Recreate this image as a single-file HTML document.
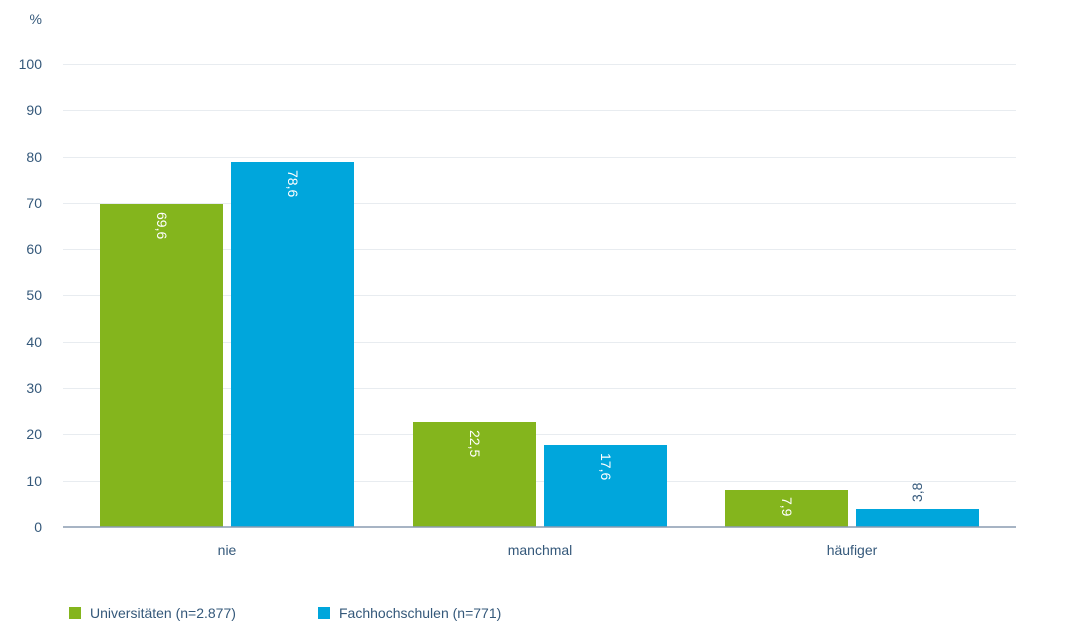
<!DOCTYPE html>
<html><head><meta charset="utf-8"><style>
body{margin:0;background:#fff;}
svg{display:block;font-family:"Liberation Sans",sans-serif;}
.t{fill:#34587a;font-size:14px;}
</style></head><body>
<svg width="1080" height="632" viewBox="0 0 1080 632">
<text class="t" x="42" y="24" text-anchor="end">%</text>
<g stroke="#e8ecf0" stroke-width="1">
<line x1="63" x2="1016" y1="64.5" y2="64.5"/><line x1="63" x2="1016" y1="110.5" y2="110.5"/>
<line x1="63" x2="1016" y1="157.5" y2="157.5"/><line x1="63" x2="1016" y1="203.5" y2="203.5"/>
<line x1="63" x2="1016" y1="249.5" y2="249.5"/><line x1="63" x2="1016" y1="295.5" y2="295.5"/>
<line x1="63" x2="1016" y1="342.5" y2="342.5"/><line x1="63" x2="1016" y1="388.5" y2="388.5"/>
<line x1="63" x2="1016" y1="434.5" y2="434.5"/><line x1="63" x2="1016" y1="481.5" y2="481.5"/>
</g>
<g class="t" text-anchor="end">
<text x="42" y="69">100</text><text x="42" y="115">90</text><text x="42" y="162">80</text>
<text x="42" y="208">70</text><text x="42" y="254">60</text><text x="42" y="300">50</text>
<text x="42" y="347">40</text><text x="42" y="393">30</text><text x="42" y="439">20</text>
<text x="42" y="486">10</text><text x="42" y="532">0</text>
</g>
<g fill="#84b51d">
<rect x="100" y="204" width="123" height="323"/>
<rect x="413" y="422" width="123" height="105"/>
<rect x="725" y="490" width="123" height="37"/>
</g>
<g fill="#00a6dc">
<rect x="231" y="162" width="123" height="365"/>
<rect x="544" y="445" width="123" height="82"/>
<rect x="856" y="509" width="123" height="18"/>
</g>
<line x1="63" x2="1016" y1="527" y2="527" stroke="#8a9bb0" stroke-width="1.5"/>
<g fill="#fff" font-size="14px">
<text transform="translate(157,212) rotate(90)">69,6</text>
<text transform="translate(288,170) rotate(90)">78,6</text>
<text transform="translate(470,430) rotate(90)">22,5</text>
<text transform="translate(601,453) rotate(90)">17,6</text>
<text transform="translate(782,497) rotate(90)">7,9</text>
</g>
<text class="t" transform="translate(922,502) rotate(-90)">3,8</text>
<g class="t" text-anchor="middle">
<text x="227" y="555">nie</text>
<text x="540" y="555">manchmal</text>
<text x="852" y="555">häufiger</text>
</g>
<rect x="69" y="607" width="12" height="12" fill="#84b51d"/>
<text class="t" x="90" y="618">Universitäten (n=2.877)</text>
<rect x="318" y="607" width="12" height="12" fill="#00a6dc"/>
<text class="t" x="339" y="618">Fachhochschulen (n=771)</text>
</svg>
</body></html>
